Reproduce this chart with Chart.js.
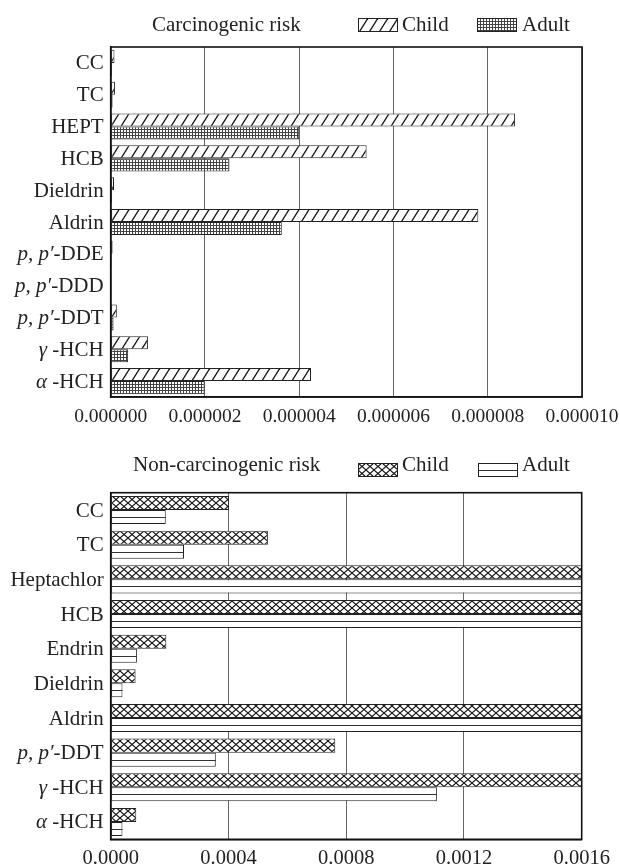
<!DOCTYPE html>
<html><head><meta charset="utf-8">
<script src="https://cdn.jsdelivr.net/npm/chart.js@4.4.1/dist/chart.umd.min.js"></script>
<style>
html,body{margin:0;padding:0;background:#fff;}
body{width:619px;height:865px;position:relative;overflow:hidden;font-family:"Liberation Serif","Times New Roman",serif;color:#222;}
.hdr{position:absolute;font-size:21px;line-height:1;white-space:nowrap;}
canvas.sw{position:absolute;}
#c1{position:absolute;left:0;top:0;}
#c2{position:absolute;left:0;top:440px;}
</style></head>
<body>
<canvas id="c1" width="619" height="435"></canvas>
<canvas id="c2" width="619" height="425"></canvas>

<div class="hdr" style="left:152px;top:14px;">Carcinogenic risk</div>
<canvas class="sw" id="sw1" width="40" height="14" style="left:358px;top:18px;"></canvas>
<div class="hdr" style="left:402px;top:14px;">Child</div>
<canvas class="sw" id="sw2" width="40" height="14" style="left:477px;top:18px;"></canvas>
<div class="hdr" style="left:522px;top:14px;">Adult</div>

<div class="hdr" style="left:133px;top:454px;">Non-carcinogenic risk</div>
<canvas class="sw" id="sw3" width="40" height="14" style="left:358px;top:463px;"></canvas>
<div class="hdr" style="left:402px;top:454px;">Child</div>
<canvas class="sw" id="sw4" width="40" height="14" style="left:478px;top:463px;"></canvas>
<div class="hdr" style="left:522px;top:454px;">Adult</div>

<script>
// ---------- DATA ----------
const carcCategories = ["CC", "TC", "HEPT", "HCB", "Dieldrin", "Aldrin", "p, p′-DDE", "p, p′-DDD", "p, p′-DDT", "γ -HCH", "α -HCH"];
const carcChild = [0.08e-6, 0.09e-6, 8.58e-6, 5.43e-6, 0.07e-6, 7.80e-6, 0.04e-6, 0.005e-6, 0.13e-6, 0.79e-6, 4.25e-6];
const carcAdult = [0.03e-6, 0.04e-6, 4.00e-6, 2.52e-6, 0.03e-6, 3.63e-6, 0.02e-6, 0.003e-6, 0.06e-6, 0.37e-6, 1.99e-6];
const carcTicks = ["0.000000", "0.000002", "0.000004", "0.000006", "0.000008", "0.000010"];

const nonCategories = ["CC", "TC", "Heptachlor", "HCB", "Endrin", "Dieldrin", "Aldrin", "p, p′-DDT", "γ -HCH", "α -HCH"];
const nonChild = [0.000402, 0.000534, 0.0045, 0.0040, 0.000189, 0.0000845, 0.0050, 0.000763, 0.0021, 0.0000868];
const nonAdult = [0.000187, 0.000249, 0.0030, 0.0025, 0.000089, 0.000040, 0.0030, 0.000357, 0.001108, 0.000040];
const nonTicks = ["0.0000", "0.0004", "0.0008", "0.0012", "0.0016"];

const seriesNames = ["Child", "Adult"];

// ---------- PATTERNS ----------
function tile(w, h, draw) {
  const c = document.createElement('canvas'); c.width = w; c.height = h;
  const x = c.getContext('2d'); x.fillStyle = '#fff'; x.fillRect(0, 0, w, h);
  draw(x, w, h); return c;
}
const tDiag = tile(10, 16, (x, w, h) => {
  x.strokeStyle = '#111'; x.lineWidth = 1.2;
  for (const o of [-w, 0, w]) { x.beginPath(); x.moveTo(o, h); x.lineTo(o + w, 0); x.stroke(); }
});
const tGrid = tile(3, 3, (x) => {
  x.fillStyle = '#444'; x.fillRect(0, 0, 3, 1); x.fillRect(0, 0, 1, 3);
});
const tCross = tile(8, 7, (x, w, h) => {
  x.strokeStyle = '#111'; x.lineWidth = 1.1;
  x.beginPath(); x.moveTo(0, 0); x.lineTo(w, h); x.stroke();
  x.beginPath(); x.moveTo(0, h); x.lineTo(w, 0); x.stroke();
});
function pat(ctx, t) { return ctx.createPattern(t, 'repeat'); }

// ---------- PLUGINS ----------
const framePlugin = {
  id: 'frame',
  afterDatasetsDraw(chart) {
    const a = chart.chartArea, c = chart.ctx;
    c.save(); c.strokeStyle = '#111'; c.lineWidth = 1.6;
    c.strokeRect(a.left, a.top, a.right - a.left, a.bottom - a.top);
    c.restore();
  }
};
const yLabelPlugin = {
  id: 'yLabels',
  afterDraw(chart) {
    const sc = chart.scales.y, c = chart.ctx, a = chart.chartArea;
    const labels = chart.data.labels;
    c.save(); c.fillStyle = '#222'; c.textBaseline = 'middle';
    labels.forEach((lab, i) => {
      const y = sc.getPixelForValue(i);
      const m = lab.match(/^(p, p′|γ|α)(.*)$/);
      const segs = m ? [[m[1], 'italic'], [m[2], 'normal']] : [[lab, 'normal']];
      let total = 0;
      segs.forEach(s => { c.font = s[1] + ' 21px "Liberation Serif"'; total += c.measureText(s[0]).width; });
      let x = a.left - 7 - total;
      c.textAlign = 'left';
      segs.forEach(s => { c.font = s[1] + ' 21px "Liberation Serif"'; c.fillText(s[0], x, y + 1); x += c.measureText(s[0]).width; });
    });
    c.restore();
  }
};
const midLinePlugin = {
  id: 'midLine',
  afterDatasetsDraw(chart, args, opts) {
    if (!opts || !opts.enabled) return;
    const meta = chart.getDatasetMeta(1), c = chart.ctx, a = chart.chartArea;
    c.save(); c.beginPath(); c.rect(a.left, a.top, a.right - a.left, a.bottom - a.top); c.clip();
    c.strokeStyle = '#333'; c.lineWidth = 1;
    meta.data.forEach(bar => {
      const p = bar.getProps(['x', 'y', 'base'], true);
      const yy = Math.round(p.y) + 0.5;
      c.beginPath(); c.moveTo(p.base, yy); c.lineTo(p.x, yy); c.stroke();
    });
    c.restore();
  }
};

function makeChart(id, labels, child, adult, childBg, adultBg, xmax, step, dec, tickFont, tickPad, padTop, padRight, xHeight, catPct, midLine) {
  return new Chart(document.getElementById(id), {
    type: 'bar',
    data: {
      labels: labels,
      datasets: [
        { label: seriesNames[0], data: child, backgroundColor: childBg, borderColor: '#222', borderWidth: 1, borderSkipped: false, clip: 0 },
        { label: seriesNames[1], data: adult, backgroundColor: adultBg, borderColor: '#222', borderWidth: 1, borderSkipped: false, clip: 0 }
      ]
    },
    options: {
      indexAxis: 'y', responsive: false, animation: false,
      layout: { padding: { top: padTop, right: padRight, left: 0, bottom: 0 } },
      datasets: { bar: { categoryPercentage: catPct, barPercentage: 1 } },
      plugins: { legend: { display: false }, tooltip: { enabled: false }, title: { display: false }, midLine: { enabled: midLine } },
      scales: {
        x: {
          min: 0, max: xmax,
          ticks: { stepSize: step, color: '#222', padding: tickPad, font: { family: 'Liberation Serif', size: tickFont }, callback: v => Number(v).toFixed(dec), maxRotation: 0, autoSkip: false },
          grid: { color: '#666', lineWidth: 1, drawTicks: false },
          border: { color: '#111', width: 1.6 },
          afterFit: s => { s.height = xHeight; s.paddingLeft = 0; s.paddingRight = 0; }
        },
        y: {
          ticks: { display: false },
          grid: { display: false },
          border: { color: '#111', width: 1.6 },
          afterFit: s => { s.width = 110.7; }
        }
      }
    },
    plugins: [framePlugin, yLabelPlugin, midLinePlugin]
  });
}

const ctx1 = document.getElementById('c1').getContext('2d');
const ctx2 = document.getElementById('c2').getContext('2d');
makeChart('c1', carcCategories, carcChild, carcAdult, pat(ctx1, tDiag), pat(ctx1, tGrid),
  Number(carcTicks[carcTicks.length - 1]), Number(carcTicks[1]), 6, 19.5, 8, 47, 37, 38, 0.82, false);
makeChart('c2', nonCategories, nonChild, nonAdult, pat(ctx2, tCross), '#fff',
  Number(nonTicks[nonTicks.length - 1]), Number(nonTicks[1]), 4, 20.5, 7, 52.7, 37.3, 25.7, 0.81, true);

// ---------- legend swatches ----------
function swatch(id, t, midline) {
  const c = document.getElementById(id), x = c.getContext('2d');
  x.fillStyle = t ? x.createPattern(t, 'repeat') : '#fff';
  x.fillRect(0, 0, c.width, c.height);
  if (midline) { x.strokeStyle = '#333'; x.lineWidth = 1; x.beginPath(); x.moveTo(0, 7.5); x.lineTo(40, 7.5); x.stroke(); }
  x.strokeStyle = '#222'; x.lineWidth = 1; x.strokeRect(0.5, 0.5, c.width - 1, c.height - 1);
}
swatch('sw1', tDiag, false);
swatch('sw2', tGrid, false);
swatch('sw3', tCross, false);
swatch('sw4', null, true);
</script>
</body></html>
